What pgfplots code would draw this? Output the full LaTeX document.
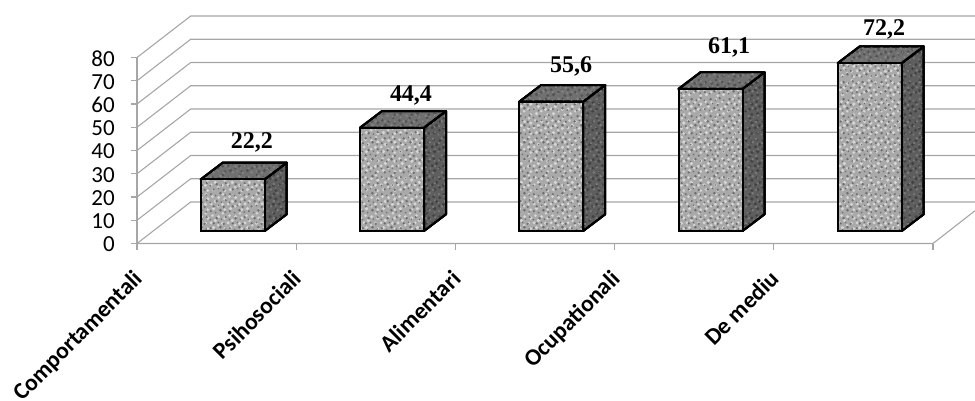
\documentclass[border=0pt]{standalone}
\usepackage{pgfplots}
\pgfplotsset{compat=1.18}
\usepackage{fontspec}
\setmainfont{Carlito}
\newfontfamily\valfont{Liberation Serif}
\usetikzlibrary{patterns}
\definecolor{wall}{HTML}{A6A6A6}
\definecolor{frontbase}{HTML}{A9A9A9}
\definecolor{frontlight}{HTML}{D6D6D6}
\definecolor{frontdark}{HTML}{6E6E6E}
\definecolor{topbase}{HTML}{707070}
\definecolor{sidebase}{HTML}{5E5E5E}
\pgfdeclarepatternformonly{speckA}{\pgfqpoint{0pt}{0pt}}{\pgfqpoint{19pt}{17pt}}{\pgfqpoint{19pt}{17pt}}{%
  \pgfpathcircle{\pgfqpoint{2pt}{3pt}}{1.2pt}
  \pgfpathcircle{\pgfqpoint{7pt}{1.5pt}}{.9pt}
  \pgfpathcircle{\pgfqpoint{12pt}{4pt}}{1.5pt}
  \pgfpathcircle{\pgfqpoint{17pt}{2pt}}{1pt}
  \pgfpathcircle{\pgfqpoint{5pt}{8pt}}{1.4pt}
  \pgfpathcircle{\pgfqpoint{10pt}{9pt}}{.9pt}
  \pgfpathcircle{\pgfqpoint{15.5pt}{7.5pt}}{1.4pt}
  \pgfpathcircle{\pgfqpoint{1.5pt}{12pt}}{1pt}
  \pgfpathcircle{\pgfqpoint{8pt}{13.5pt}}{1.5pt}
  \pgfpathcircle{\pgfqpoint{13pt}{12.5pt}}{.9pt}
  \pgfpathcircle{\pgfqpoint{17.5pt}{14.5pt}}{1.2pt}
  \pgfusepath{fill}}
\pgfdeclarepatternformonly{speckB}{\pgfqpoint{0pt}{0pt}}{\pgfqpoint{17pt}{19pt}}{\pgfqpoint{17pt}{19pt}}{%
  \pgfpathcircle{\pgfqpoint{4pt}{1.5pt}}{1.6pt}
  \pgfpathcircle{\pgfqpoint{10pt}{2.5pt}}{1.9pt}
  \pgfpathcircle{\pgfqpoint{15pt}{5pt}}{1.5pt}
  \pgfpathcircle{\pgfqpoint{1.5pt}{7pt}}{1.8pt}
  \pgfpathcircle{\pgfqpoint{7.5pt}{7.5pt}}{1.7pt}
  \pgfpathcircle{\pgfqpoint{12pt}{10pt}}{1.9pt}
  \pgfpathcircle{\pgfqpoint{4pt}{12.5pt}}{1.9pt}
  \pgfpathcircle{\pgfqpoint{15.5pt}{14pt}}{1.7pt}
  \pgfpathcircle{\pgfqpoint{9pt}{15pt}}{1.6pt}
  \pgfpathcircle{\pgfqpoint{2pt}{17.5pt}}{1.5pt}
  \pgfusepath{fill}}
\tikzset{vallabel/.style={font=\valfont\fontsize{24}{24}\selectfont\bfseries}}
\pgfplotsset{
  wallline/.style={color=wall,line width=1.1pt,forget plot,mark=none,sharp plot},
  face/.style={draw=black,line width=2pt,line join=round,forget plot,mark=none,sharp plot},
  topface/.style={face,fill=topbase,postaction={pattern=speckB,pattern color=black!25!topbase},postaction={pattern=speckA,pattern color=white!15!topbase}},
  sideface/.style={face,fill=sidebase,postaction={pattern=speckB,pattern color=black!30!sidebase},postaction={pattern=speckA,pattern color=white!18!sidebase}},
}
\begin{document}
\begin{tikzpicture}
\begin{axis}[
  x=1pt,y=2.325pt,
  xmin=137,xmax=975,ymin=0,ymax=97.85,
  clip=false,
  axis line style={draw=none},
  xtick={137,296.2,455.4,614.6,773.8,933},
  xticklabels={Comportamentali,Psihosociali,Alimentari,Ocupationali,De mediu,},
  ytick={0,10,20,30,40,50,60,70,80},
  xtick pos=bottom,ytick pos=left,
  tick align=outside,
  major tick length=6pt,
  tick style={color=wall,line width=1.1pt},
  x tick label style={font=\fontsize{23.5}{23.5}\selectfont\bfseries,rotate=45,anchor=north east,inner sep=1pt,xshift=-16pt,yshift=-9pt},
  y tick label style={font=\fontsize{23}{23}\selectfont,inner sep=2pt,xshift=-14pt,yshift=-1pt},
  /pgf/number format/assume math mode=true,
]
% floor edges and axes
\addplot[wallline] coordinates {(137,0) (137,80)};
\addplot[wallline] coordinates {(137,0) (933,0) (975,14.1)};
% side wall and back wall grid lines
\addplot[wallline] coordinates {(137,0) (190.7,17.85) (975,17.85)};
\addplot[wallline] coordinates {(137,10) (190.7,27.85) (975,27.85)};
\addplot[wallline] coordinates {(137,20) (190.7,37.85) (975,37.85)};
\addplot[wallline] coordinates {(137,30) (190.7,47.85) (975,47.85)};
\addplot[wallline] coordinates {(137,40) (190.7,57.85) (975,57.85)};
\addplot[wallline] coordinates {(137,50) (190.7,67.85) (975,67.85)};
\addplot[wallline] coordinates {(137,60) (190.7,77.85) (975,77.85)};
\addplot[wallline] coordinates {(137,70) (190.7,87.85) (975,87.85)};
\addplot[wallline] coordinates {(137,80) (190.7,97.85) (975,97.85)};
% right and top faces of the bars
\addplot[sideface] coordinates {(264.7,5.376) (286.7,12.556) (286.7,34.76) (264.7,27.58)} -- cycle;
\addplot[topface] coordinates {(200.7,27.58) (222.7,34.76) (286.7,34.76) (264.7,27.58)} -- cycle;
\addplot[sideface] coordinates {(424,5.376) (446,12.556) (446,56.96) (424,49.78)} -- cycle;
\addplot[topface] coordinates {(360,49.78) (382,56.96) (446,56.96) (424,49.78)} -- cycle;
\addplot[sideface] coordinates {(583.2,5.376) (605.2,12.556) (605.2,68.16) (583.2,60.98)} -- cycle;
\addplot[topface] coordinates {(519.2,60.98) (541.2,68.16) (605.2,68.16) (583.2,60.98)} -- cycle;
\addplot[sideface] coordinates {(742.5,5.376) (764.5,12.556) (764.5,73.66) (742.5,66.48)} -- cycle;
\addplot[topface] coordinates {(678.5,66.48) (700.5,73.66) (764.5,73.66) (742.5,66.48)} -- cycle;
\addplot[sideface] coordinates {(901.7,5.376) (923.7,12.556) (923.7,84.76) (901.7,77.58)} -- cycle;
\addplot[topface] coordinates {(837.7,77.58) (859.7,84.76) (923.7,84.76) (901.7,77.58)} -- cycle;
% front faces: invisible depth offset, then the values
\addplot[ybar,stack plots=y,bar width=64,bar shift=0pt,draw=none,fill=none,forget plot] coordinates {(232.7,5.376) (392,5.376) (551.2,5.376) (710.5,5.376) (869.7,5.376)};
\addplot[ybar,stack plots=y,bar width=64,bar shift=0pt,draw=black,line width=2pt,fill=frontbase,
  postaction={pattern=speckB,pattern color=frontlight},
  postaction={pattern=speckA,pattern color=frontdark},forget plot]
  coordinates {(232.7,22.2) (392,44.4) (551.2,55.6) (710.5,61.1) (869.7,72.2)};
% value labels
\node[vallabel] at (axis cs:252,43.5) {22,2};
\node[vallabel] at (axis cs:411,63.7) {44,4};
\node[vallabel] at (axis cs:571,76.2) {55,6};
\node[vallabel] at (axis cs:729,84.3) {61,1};
\node[vallabel] at (axis cs:884,92.1) {72,2};
\coordinate (bl) at (axis cs:0,-67.63);
\coordinate (tr) at (axis cs:975,104.73);
\end{axis}
\pgfresetboundingbox
\path[use as bounding box] (bl) rectangle (tr);
\end{tikzpicture}
\end{document}
